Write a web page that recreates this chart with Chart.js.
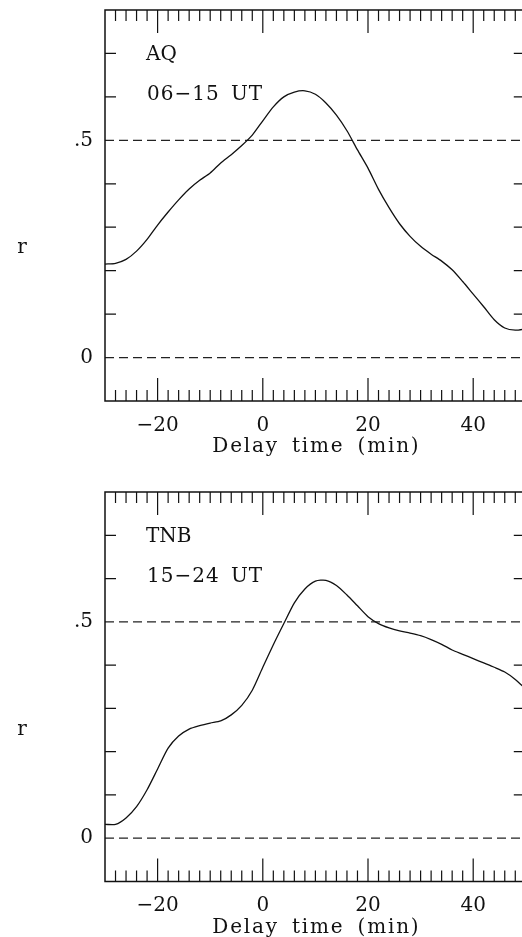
<!DOCTYPE html>
<html>
<head>
<meta charset="utf-8">
<title>Delay time correlation</title>
<style>
  body { margin: 0; background: #fff; overflow: hidden; }
  canvas { position: absolute; left: 0; }
  #top { top: 0; }
  #bottom { top: 482px; }
</style>
</head>
<body>
<canvas id="top" width="540" height="470"></canvas>
<canvas id="bottom" width="540" height="470"></canvas>

<script src="https://cdn.jsdelivr.net/npm/chart.js@4.4.1/dist/chart.umd.min.js"></script>
<script>
// delay time (min), one value every 2 min
var delay = [-30, -28, -26, -24, -22, -20, -18, -16, -14, -12, -10, -8, -6, -4, -2,
  0, 2, 4, 6, 8, 10, 12, 14, 16, 18, 20, 22, 24, 26, 28, 30, 32, 34, 36, 38, 40,
  42, 44, 46, 48, 50];

// correlation r, AQ 06-15 UT
var rAQ = [0.215, 0.217, 0.226, 0.245, 0.272, 0.305, 0.335, 0.363, 0.388, 0.408,
  0.425, 0.448, 0.467, 0.488, 0.512, 0.545, 0.577, 0.600, 0.611, 0.614, 0.606,
  0.586, 0.558, 0.522, 0.478, 0.436, 0.387, 0.345, 0.308, 0.279, 0.256, 0.238,
  0.222, 0.202, 0.175, 0.146, 0.117, 0.087, 0.068, 0.063, 0.066];

// correlation r, TNB 15-24 UT
var rTNB = [0.032, 0.032, 0.047, 0.073, 0.112, 0.160, 0.208, 0.236, 0.252, 0.260,
  0.266, 0.271, 0.285, 0.307, 0.342, 0.395, 0.447, 0.496, 0.544, 0.576, 0.594,
  0.596, 0.584, 0.562, 0.537, 0.512, 0.496, 0.486, 0.479, 0.474, 0.468, 0.459,
  0.448, 0.435, 0.425, 0.415, 0.405, 0.395, 0.384, 0.367, 0.345];

var panelNames = ['AQ', 'TNB'];
var panelTimes = ['06\u221215 UT', '15\u221224 UT'];
var xTitle = 'Delay time (min)';
var yTitle = 'r';

var xLabelTicks = [-20, 0, 20, 40];
var xMinorTicks = [-28, -26, -24, -22, -18, -16, -14, -12, -10, -8, -6, -4, -2,
  2, 4, 6, 8, 10, 12, 14, 16, 18, 22, 24, 26, 28, 30, 32, 34, 36, 38, 42, 44, 46, 48];
var yLabelTicks = [0, 0.5];
var yLabelText = ['0', '.5'];
var yMinorTicks = [0.1, 0.2, 0.3, 0.4, 0.6, 0.7];
var refLines = [0, 0.5];

var serif = 'DejaVu Serif';

var framePlugin = {
  id: 'frame',
  afterDraw: function (chart) {
    var ctx = chart.ctx;
    var a = chart.chartArea;
    var xs = chart.scales.x, ys = chart.scales.y;
    ctx.save();
    ctx.strokeStyle = '#111';
    ctx.lineWidth = 1.5;
    ctx.strokeRect(a.left, a.top, a.right - a.left, a.bottom - a.top);

    ctx.lineWidth = 1.2;
    ctx.beginPath();
    xMinorTicks.concat(xLabelTicks).forEach(function (v) {
      var len = xLabelTicks.indexOf(v) >= 0 ? 23 : 11;
      var px = xs.getPixelForValue(v);
      ctx.moveTo(px, a.top); ctx.lineTo(px, a.top + len);
      ctx.moveTo(px, a.bottom); ctx.lineTo(px, a.bottom - len);
    });
    yMinorTicks.forEach(function (v) {
      var py = ys.getPixelForValue(v);
      ctx.moveTo(a.left, py); ctx.lineTo(a.left + 11, py);
      ctx.moveTo(a.right, py); ctx.lineTo(a.right - 12, py);
    });
    ctx.stroke();

    var o = chart.options.plugins.frame;
    ctx.fillStyle = '#111';
    ctx.font = '20px "' + serif + '"';
    ctx.textBaseline = 'alphabetic';
    ctx.textAlign = 'left';
    ctx.fillText(o.name, 146, a.top + 50);
    ctx.letterSpacing = '1px';
    ctx.wordSpacing = '4px';
    ctx.fillText(o.time, 147, a.top + 90);
    ctx.textAlign = 'center';
    ctx.letterSpacing = '1.8px';
    ctx.wordSpacing = '5px';
    ctx.fillText(xTitle, (a.left + a.right) / 2 + 1, a.bottom + 51);
    ctx.letterSpacing = '0px';
    ctx.wordSpacing = '0px';
    ctx.textBaseline = 'middle';
    ctx.fillText(yTitle, 22, a.top + 238);
    ctx.restore();
  }
};

function noPad(s) {
  s.paddingTop = 0; s.paddingBottom = 0;
  s.paddingLeft = 0; s.paddingRight = 0;
}

function makePanel(id, values, idx, plotBottom) {
  var canvas = document.getElementById(id);
  var datasets = [{
    data: delay.map(function (d, i) { return { x: d, y: values[i] }; }),
    borderColor: '#111',
    borderWidth: 1.3,
    pointRadius: 0,
    tension: 0.25
  }];
  refLines.forEach(function (v) {
    datasets.push({
      data: [{ x: -30, y: v }, { x: 50, y: v }],
      borderColor: '#222',
      borderWidth: 1.2,
      borderDash: [9, 5],
      pointRadius: 0
    });
  });

  return new Chart(canvas.getContext('2d'), {
    type: 'line',
    data: { datasets: datasets },
    plugins: [framePlugin],
    options: {
      responsive: false,
      animation: false,
      layout: { padding: { top: 10, right: 14.2, left: 0, bottom: 0 } },
      plugins: {
        legend: { display: false },
        tooltip: { enabled: false },
        frame: { name: panelNames[idx], time: panelTimes[idx] }
      },
      scales: {
        x: {
          type: 'linear',
          min: -30, max: 50,
          grid: { display: false, drawTicks: false },
          border: { display: false },
          afterBuildTicks: function (s) {
            s.ticks = xLabelTicks.map(function (v) { return { value: v }; });
          },
          afterFit: function (s) { s.height = 470 - plotBottom; noPad(s); },
          ticks: {
            autoSkip: false, maxRotation: 0, padding: 12.5, color: '#111',
            font: { family: serif, size: 20 },
            callback: function (v) { return v < 0 ? '\u2212' + Math.abs(v) : String(v); }
          }
        },
        y: {
          min: -0.1, max: 0.8,
          grid: { display: false, drawTicks: false },
          border: { display: false },
          afterBuildTicks: function (s) {
            s.ticks = yLabelTicks.map(function (v) { return { value: v }; });
          },
          afterFit: function (s) { s.width = 105; noPad(s); },
          ticks: {
            padding: 12, color: '#111',
            font: { family: serif, size: 20 },
            callback: function (v) {
              var k = yLabelTicks.indexOf(v);
              return k >= 0 ? yLabelText[k] : '';
            }
          }
        }
      }
    }
  });
}

makePanel('top', rAQ, 0, 401);
makePanel('bottom', rTNB, 1, 399.5);
</script>
</body>
</html>
